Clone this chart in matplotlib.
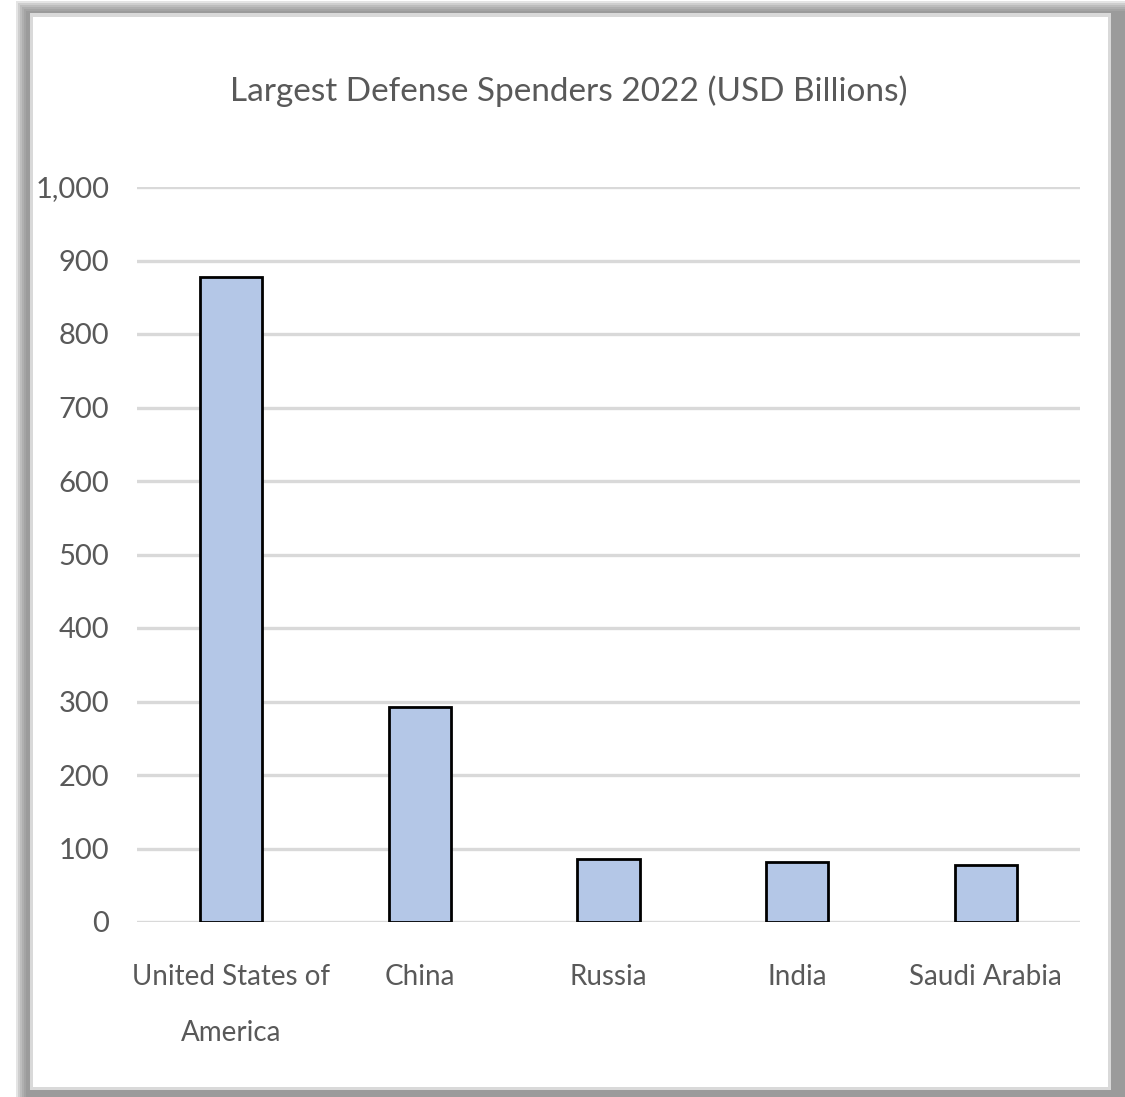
import matplotlib.pyplot as plt
from matplotlib.patches import Rectangle
import numpy as np

# data
countries = ["United States of\nAmerica", "China", "Russia", "India", "Saudi Arabia"]
spending = [877, 292, 86, 82, 77]
yticks = [0, 100, 200, 300, 400, 500, 600, 700, 800, 900, 1000]
ytick_labels = ["0", "100", "200", "300", "400", "500", "600", "700", "800", "900", "1,000"]
title = "Largest Defense Spenders 2022 (USD Billions)"

W, H = 1125, 1097
plt.rcParams['font.family'] = ["Lato", "DejaVu Sans"]

fig = plt.figure(figsize=(W / 100, H / 100), dpi=100)
fig.patch.set_facecolor("white")

def px_rect(x0, y0, x1, y1, color, z, alpha=1.0):
    # rectangle given in pixel coords (top-left origin)
    r = Rectangle((x0 / W, 1 - y1 / H), (x1 - x0) / W, (y1 - y0) / H,
                  transform=fig.transFigure, facecolor=color, edgecolor="none",
                  zorder=z, alpha=alpha)
    fig.patches.append(r)

# soft shadow + border around the chart
for i in range(6):
    px_rect(16 + i * 2, 1 + i * 2, 1125, 1097, "#7a7a7a", -10 + i, alpha=0.2)
px_rect(30, 13, 1111, 1090, "#d9d9d9", 0)
px_rect(33, 17, 1108, 1087, "white", 1)

ax = fig.add_axes([137 / W, 1 - 922 / H, (1080 - 137) / W, (922 - 187) / H])
ax.set_zorder(2)
ax.patch.set_alpha(0)

x = np.arange(len(countries))
ax.bar(x, spending, width=0.33, color="#b4c7e7", edgecolor="black", linewidth=2, zorder=3)

ax.set_xlim(-0.5, len(countries) - 0.5)
ax.set_ylim(0, 1000)
ax.set_yticks(yticks)
ax.set_yticklabels(ytick_labels)
ax.set_xticks(x)
ax.set_xticklabels(countries, linespacing=2.45)
ax.yaxis.grid(True, color="#d9d9d9", linewidth=2.4, zorder=0)
ax.set_axisbelow(True)
for s in ax.spines.values():
    s.set_visible(False)
ax.tick_params(axis="both", length=0, colors="#595959")
ax.tick_params(axis="y", labelsize=21, pad=20)
ax.tick_params(axis="x", labelsize=20, pad=30)

fig.text((238 + 900) / 2 / W, 1 - 91 / H, title, ha="center", va="center",
         fontsize=24, color="#595959", zorder=5)

fig.savefig("out.png", dpi=100)
